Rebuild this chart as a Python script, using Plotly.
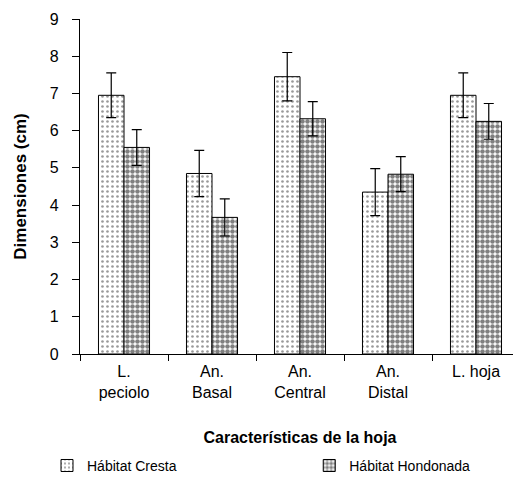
import plotly.graph_objects as go

categories = ["L.<br>peciolo", "An.<br>Basal", "An.<br>Central", "An.<br>Distal", "L. hoja"]
cresta = [6.95, 4.85, 7.45, 4.35, 6.95]
cresta_err = [0.6, 0.62, 0.65, 0.63, 0.6]
hondonada = [5.55, 3.67, 6.32, 4.83, 6.25]
hondonada_err = [0.48, 0.5, 0.46, 0.47, 0.48]
yticks = list(range(0, 10))

fig = go.Figure()
fig.add_trace(go.Bar(
    name="Hábitat Cresta", x=categories, y=cresta, legend="legend",
    error_y=dict(type="data", array=cresta_err, color="black", thickness=1.2, width=5),
    marker=dict(color="white", line=dict(color="black", width=1),
                pattern=dict(shape=".", fgcolor="#333333", bgcolor="white", size=5, solidity=0.22)),
))
fig.add_trace(go.Bar(
    name="Hábitat Hondonada", x=categories, y=hondonada, legend="legend2",
    error_y=dict(type="data", array=hondonada_err, color="black", thickness=1.2, width=5),
    marker=dict(color="white", line=dict(color="black", width=1),
                pattern=dict(shape=".", fgcolor="black", bgcolor="white", size=5, solidity=0.65)),
))

font_family = "Liberation Sans, Arial, sans-serif"
fig.update_layout(
    width=513, height=473,
    margin=dict(l=72, r=1, t=11, b=127, autoexpand=False),
    paper_bgcolor="white", plot_bgcolor="white",
    barmode="group", bargap=0.42, bargroupgap=0,
    font=dict(family=font_family, color="black"),
    showlegend=True,
    legend=dict(orientation="h", x=-0.075, xanchor="left", y=-0.334, yanchor="middle",
                font=dict(size=14, color="black")),
    legend2=dict(orientation="h", x=0.521, xanchor="left", y=-0.334, yanchor="middle",
                 font=dict(size=14, color="black")),
    xaxis=dict(
        showline=True, linecolor="black", linewidth=1.2,
        ticks="outside", ticklen=6, tickcolor="black", tickson="boundaries",
        tickfont=dict(size=16), showgrid=False, ticklabelstandoff=3,
        title=dict(text="<b>Características de la hoja</b>", font=dict(size=16), standoff=31),
    ),
    yaxis=dict(
        range=[0, 9], tickvals=yticks, showline=True, linecolor="black", linewidth=1.2,
        ticks="outside", ticklen=7, tickcolor="black", showgrid=False, zeroline=False,
        tickfont=dict(size=16), ticklabelstandoff=10,
        title=dict(text="<b>Dimensiones (cm)</b>", font=dict(size=17), standoff=18),
    ),
)

fig.write_html("out.html")
